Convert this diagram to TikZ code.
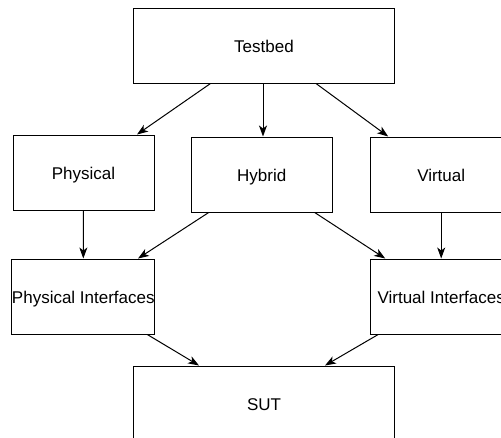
\documentclass[tikz,border=0pt]{standalone}
\usepackage{fontspec}
\setmainfont{Liberation Sans}
\usetikzlibrary{arrows.meta}
\begin{document}
\begin{tikzpicture}[x=1pt,y=-1pt,
  box/.style={draw=black,line width=1pt,rectangle,inner sep=0pt,minimum height=75pt,text height=16pt,text depth=2pt,font=\fontsize{17}{20}\selectfont},
  wide/.style={box,minimum width=261pt},
  narrow/.style={box,minimum width=141pt},
  conn/.style={draw=black,line width=1pt,-{Stealth[length=11pt,width=8pt,inset=3pt]}}]
\useasboundingbox (0,0) rectangle (501,437);
\clip (0,0) rectangle (501,437);
\node[wide]   (T)  at (264,45.5)  {Testbed};
\node[narrow] (P)  at (83.5,172.5) {Physical};
\node[narrow] (H)  at (261.7,174.5) {Hybrid};
\node[narrow] (V)  at (441.2,174.5) {Virtual};
\node[narrow] (PI) at (83.3,296.5) {Physical Interfaces};
\node[narrow] (VI) at (441.2,296.5) {Virtual Interfaces};
\node[wide]   (S)  at (264,403.5) {SUT};
\draw[conn] ([xshift=-53.5pt]T.south) -- ([xshift=53.5pt]P.north);
\draw[conn] ([xshift=-1pt]T.south) -- ([xshift=-1pt]T.south |- H.north);
\draw[conn] ([xshift=52pt]T.south) -- ([xshift=-53pt]V.north);
\draw[conn] (P.south) -- (PI.north);
\draw[conn] ([xshift=-53pt]H.south) -- ([xshift=54.7pt]PI.north);
\draw[conn] ([xshift=53pt]H.south) -- ([xshift=-56pt]VI.north);
\draw[conn] (V.south) -- (VI.north);
\draw[conn] ([xshift=64pt]PI.south) -- ([xshift=-65pt]S.north);
\draw[conn] ([xshift=-63pt]VI.south) -- ([xshift=61pt]S.north);
\end{tikzpicture}
\end{document}
